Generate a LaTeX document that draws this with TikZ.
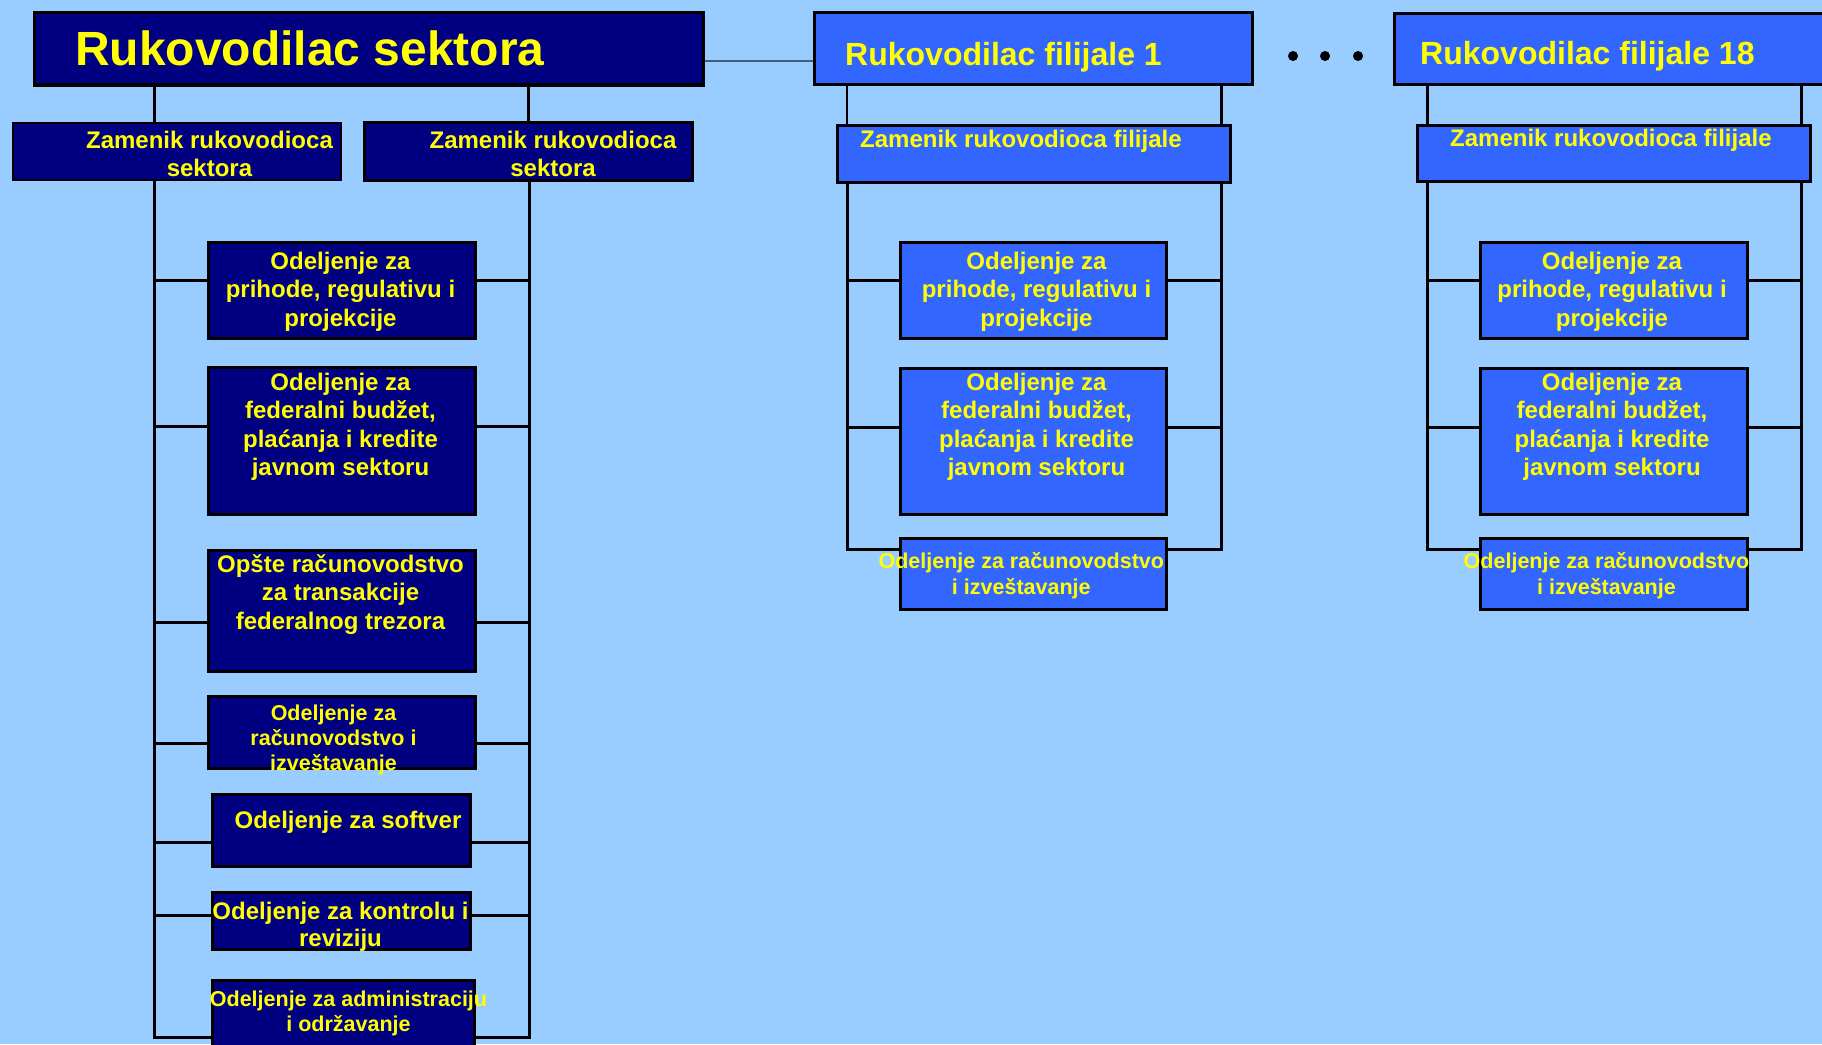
\documentclass[tikz,border=0pt]{standalone}
\usepackage{fontspec}
\setmainfont{Liberation Sans}
\definecolor{bg}{HTML}{99CCFF}
\definecolor{navy}{HTML}{000080}
\definecolor{blu}{HTML}{3366FF}
\definecolor{ylw}{HTML}{FFFF00}
\definecolor{thinc}{HTML}{3F5F80}
\tikzset{
  orgbox/.style={rectangle, draw=black, line width=3pt, inner sep=0pt},
  navybox/.style={orgbox, fill=navy},
  bluebox/.style={orgbox, fill=blu},
  conn/.style={draw=black, line width=3pt},
  thinconn/.style={draw=thinc, line width=1.4pt},
  lbl/.style={text=ylw, inner sep=0pt, anchor=base},
  fbig/.style={font=\fontsize{48}{56}\selectfont\bfseries},
  fmid/.style={font=\fontsize{32}{38}\selectfont\bfseries},
  fnorm/.style={font=\fontsize{24}{28.5}\selectfont\bfseries},
  fnormb/.style={font=\fontsize{24}{27.5}\selectfont\bfseries},
  fsmall/.style={font=\fontsize{21.5}{25}\selectfont\bfseries},
  fsmallb/.style={font=\fontsize{21.5}{26}\selectfont\bfseries},
}
\newcommand{\mylines}[1]{\begin{tabular}[t]{@{}c@{}}#1\end{tabular}}
\begin{document}
\begin{tikzpicture}[x=1pt,y=-1pt]
\useasboundingbox (0,0) rectangle (1822,1044);
\clip (0,0) rectangle (1822,1044);
\fill[bg] (0,0) rectangle (1822,1044);

% ---------- boxes: sector ----------
\node[navybox, line width=3.5pt, minimum width=669, minimum height=72.5] (main) at (369,48.75) {};
\node[navybox, line width=2pt, minimum width=328, minimum height=57.3] (zam1) at (176.65,151.35) {};
\node[navybox, minimum width=328.8, minimum height=58.3] (zam2) at (528.5,151.35) {};
\node[navybox, minimum width=266.5, minimum height=96.3] (prih) at (341.75,290.35) {};
\node[navybox, minimum width=266.5, minimum height=147] (fed) at (341.75,441) {};
\node[navybox, minimum width=266.5, minimum height=121] (opste) at (341.75,610.7) {};
\node[navybox, minimum width=266.5, minimum height=72] (racun) at (341.75,732.8) {};
\node[navybox, minimum width=257.8, minimum height=71.7] (soft) at (341.4,830.35) {};
\node[navybox, minimum width=258, minimum height=57] (kontr) at (341.2,921) {};
\node[navybox, minimum width=262.3, minimum height=88.3] (admin) at (343.35,1024.35) {};

% ---------- boxes: filijala 1 ----------
\node[bluebox, minimum width=438, minimum height=71.6] (fil1) at (1033.5,48.7) {};
\node[bluebox, minimum width=392.5, minimum height=57] (fz1) at (1033.75,153.7) {};
\node[bluebox, minimum width=266, minimum height=96.3] (f1b1) at (1033.5,290.35) {};
\node[bluebox, minimum width=266, minimum height=146.5] (f1b2) at (1033.5,441.25) {};
\node[bluebox, minimum width=266, minimum height=70.8] (f1b3) at (1033.5,573.6) {};

% ---------- boxes: filijala 18 ----------
\node[bluebox, minimum width=453.7, minimum height=71] (fil18) at (1621.65,48.7) {};
\node[bluebox, minimum width=393.3, minimum height=55.7] (fz18) at (1614.15,153.35) {};
\node[bluebox, minimum width=266.7, minimum height=96.3] (f18b1) at (1614.15,290.35) {};
\node[bluebox, minimum width=266.7, minimum height=146.5] (f18b2) at (1614.15,441.25) {};
\node[bluebox, minimum width=266.7, minimum height=70.8] (f18b3) at (1614.15,573.6) {};

% ---------- spine coordinates ----------
\coordinate (L) at (154,0);
\coordinate (R) at (529,0);
\coordinate (Ru) at (528,0);
\coordinate (bot) at (0,1037);
\coordinate (F1L) at (847,0);
\coordinate (F1R) at (1221.5,0);
\coordinate (F18L) at (1427.3,0);
\coordinate (F18R) at (1801.5,0);
\coordinate (fbot) at (0,549);
\coordinate (hy) at (0,61);

% ---------- connectors: sector ----------
\draw[thinconn] (main.east |- hy) -- (fil1.west |- hy);
\draw[conn] (main.south -| L) -- (zam1.north -| L);
\draw[conn] (main.south -| Ru) -- (zam2.north -| Ru);
\draw[conn] (zam1.south -| L) |- (admin.west |- bot);
\draw[conn] (zam2.south -| R) |- (admin.east |- bot);
\foreach \b/\yy in {prih/280.7, fed/426.7, opste/622, racun/743.7, soft/842, kontr/915.3}{
  \coordinate (tmp) at (0,\yy);
  \draw[conn] (L |- tmp) -- (\b.west |- tmp);
  \draw[conn] (\b.east |- tmp) -- (R |- tmp);
}

% ---------- connectors: filijala 1 ----------
\draw[conn, line width=2.5pt] (fil1.south -| F1L) -- (fz1.north -| F1L);
\draw[conn, line width=2.5pt] (fil1.south -| F1R) -- (fz1.north -| F1R);
\draw[conn] (fz1.south -| F1L) |- (f1b3.west |- fbot);
\draw[conn] (fz1.south -| F1R) |- (f1b3.east |- fbot);
\foreach \b/\yy in {f1b1/280.4, f1b2/427.3}{
  \coordinate (tmp) at (0,\yy);
  \draw[conn] (F1L |- tmp) -- (\b.west |- tmp);
  \draw[conn] (\b.east |- tmp) -- (F1R |- tmp);
}

% ---------- connectors: filijala 18 ----------
\draw[conn, line width=2.5pt] (fil18.south -| F18L) -- (fz18.north -| F18L);
\draw[conn, line width=2.5pt] (fil18.south -| F18R) -- (fz18.north -| F18R);
\draw[conn] (fz18.south -| F18L) |- (f18b3.west |- fbot);
\draw[conn] (fz18.south -| F18R) |- (f18b3.east |- fbot);
\foreach \b/\yy in {f18b1/280.4, f18b2/427.3}{
  \coordinate (tmp) at (0,\yy);
  \draw[conn] (F18L |- tmp) -- (\b.west |- tmp);
  \draw[conn] (\b.east |- tmp) -- (F18R |- tmp);
}

% ---------- dots ----------
\fill[black] (1293,56) circle[radius=5pt];
\fill[black] (1325,56) circle[radius=5pt];
\fill[black] (1358,56) circle[radius=5pt];

% ---------- texts: sector ----------
\node[lbl, fbig, anchor=base west] (tmain) at (75,65) {Rukovodilac sektora};
\node[lbl, fnorm] (tzam1) at (209.5,148.3) {\mylines{Zamenik rukovodioca\\sektora}};
\node[lbl, fnorm] (tzam2) at (553,148.3) {\mylines{Zamenik rukovodioca\\sektora}};
\node[lbl, fnorm] (tprih) at (340.5,269) {\mylines{Odeljenje za\\prihode, regulativu i\\projekcije}};
\node[lbl, fnorm] (tfed) at (340.5,390) {\mylines{Odeljenje za\\federalni budžet,\\plaćanja i kredite\\javnom sektoru}};
\node[lbl, fnorm] (topste) at (340.5,572) {\mylines{Opšte računovodstvo\\za transakcije\\federalnog trezora}};
\node[lbl, fsmall] (tracun) at (333.5,720.3) {\mylines{Odeljenje za\\računovodstvo i\\izveštavanje}};
\node[lbl, fnorm] (tsoft) at (348,828) {Odeljenje za softver};
\node[lbl, fnormb] (tkontr) at (340.5,919.3) {\mylines{Odeljenje za kontrolu i\\reviziju}};
\node[lbl, fsmall] (tadmin) at (348.5,1006.7) {\mylines{Odeljenje za administraciju\\i održavanje}};

% ---------- texts: filijala 1 ----------
\node[lbl, fmid, anchor=base west] (tfil1) at (845,65.3) {Rukovodilac filijale 1};
\node[lbl, fnorm, anchor=base west] (tfz1) at (860,147.8) {Zamenik rukovodioca filijale};
\node[lbl, fnorm] (tf1b1) at (1036.5,269) {\mylines{Odeljenje za\\prihode, regulativu i\\projekcije}};
\node[lbl, fnorm] (tf1b2) at (1036.5,390) {\mylines{Odeljenje za\\federalni budžet,\\plaćanja i kredite\\javnom sektoru}};
\node[lbl, fsmallb] (tf1b3) at (1021.3,568.4) {\mylines{Odeljenje za računovodstvo\\i izveštavanje}};

% ---------- texts: filijala 18 ----------
\node[lbl, fmid, anchor=base west] (tfil18) at (1420,64.3) {Rukovodilac filijale 18};
\node[lbl, fnorm, anchor=base west] (tfz18) at (1450,146.7) {Zamenik rukovodioca filijale};
\node[lbl, fnorm] (tf18b1) at (1612,269) {\mylines{Odeljenje za\\prihode, regulativu i\\projekcije}};
\node[lbl, fnorm] (tf18b2) at (1612,390) {\mylines{Odeljenje za\\federalni budžet,\\plaćanja i kredite\\javnom sektoru}};
\node[lbl, fsmallb] (tf18b3) at (1606.5,568.4) {\mylines{Odeljenje za računovodstvo\\i izveštavanje}};
\end{tikzpicture}
\end{document}
